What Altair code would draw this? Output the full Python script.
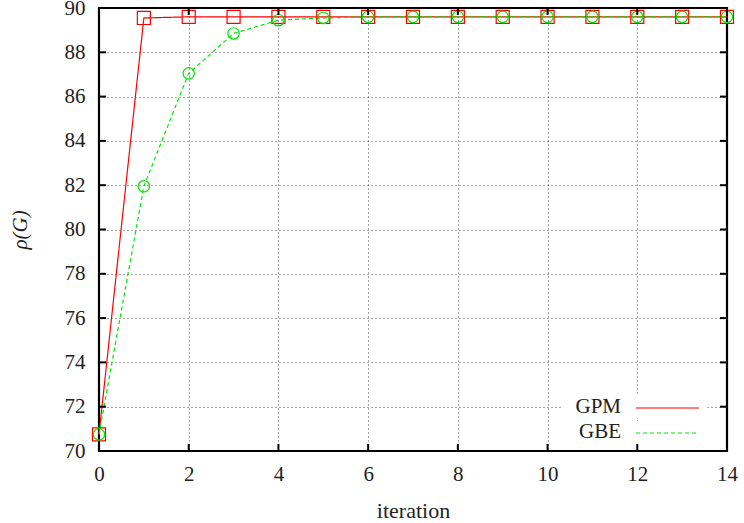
import altair as alt
import pandas as pd

iterations = list(range(15))
gpm = [70.75, 89.55, 89.6, 89.6, 89.6, 89.6, 89.6, 89.6, 89.6, 89.6, 89.6, 89.6, 89.6, 89.6, 89.6]
gbe = [70.75, 81.95, 87.05, 88.85, 89.45, 89.55, 89.6, 89.6, 89.6, 89.6, 89.6, 89.6, 89.6, 89.6, 89.6]
series = ["GPM", "GBE"]
colors = ["#ff0000", "#00e600"]
dashes = [[1, 0], [4, 3]]
shapes = ["square", "circle"]
xticks = list(range(0, 15, 2))
yticks = list(range(70, 91, 2))

rows = []
for name, vals in zip(series, [gpm, gbe]):
    for it, v in zip(iterations, vals):
        rows.append({"iteration": it, "rho": v, "series": name})
df = pd.DataFrame(rows)

W, H = 628, 443
FONT = "Liberation Serif"
FS = 21

xs = alt.Scale(domain=[0, 14], nice=False, zero=False)
ys = alt.Scale(domain=[70, 90], nice=False, zero=False)
color = alt.Color("series:N", scale=alt.Scale(domain=series, range=colors), legend=None)

xaxis = alt.Axis(values=xticks, title="iteration", grid=True, gridDash=[1, 3], gridColor="#000",
                 gridOpacity=0.7, ticks=False, domain=False, labelFont=FONT, labelFontSize=FS,
                 labelColor="#222", labelPadding=12, labelFlush=False, labelOverlap=False,
                 titleFont=FONT, titleFontSize=FS + 1,
                 titleFontWeight="normal", titleColor="#222", titleY=59, titleBaseline="middle")
yaxis = alt.Axis(values=yticks, title="ρ(G)", grid=True, gridDash=[1, 3], gridColor="#000",
                 gridOpacity=0.7, ticks=False, domain=False, labelFont=FONT, labelFontSize=FS,
                 labelColor="#222", labelPadding=14, labelFlush=False, labelOverlap=False,
                 titleFont=FONT, titleFontSize=FS,
                 titleFontWeight="normal", titleFontStyle="italic", titleColor="#222",
                 titleAngle=270, titleX=-79, titleY=H / 2, titleAlign="center",
                 titleBaseline="middle")

base = alt.Chart(df)
lines = base.mark_line(strokeWidth=1.2).encode(
    x=alt.X("iteration:Q", scale=xs, axis=xaxis),
    y=alt.Y("rho:Q", scale=ys, axis=yaxis),
    color=color,
    strokeDash=alt.StrokeDash("series:N", scale=alt.Scale(domain=series, range=dashes), legend=None),
    detail="series:N",
)
points = base.mark_point(filled=False, strokeWidth=1.2, opacity=1).encode(
    x=alt.X("iteration:Q", scale=xs),
    y=alt.Y("rho:Q", scale=ys),
    color=color,
    shape=alt.Shape("series:N", scale=alt.Scale(domain=series, range=shapes), legend=None),
    size=alt.Size("series:N", scale=alt.Scale(domain=series, range=[170, 130]), legend=None),
)

xt = pd.DataFrame({"v": xticks})
yt = pd.DataFrame({"v": yticks})
tick_style = dict(color="#000", strokeWidth=2)
xt_bottom = alt.Chart(xt).mark_rule(**tick_style).encode(x=alt.X("v:Q", scale=xs), y=alt.value(H), y2=alt.value(H - 7))
xt_top = alt.Chart(xt).mark_rule(**tick_style).encode(x=alt.X("v:Q", scale=xs), y=alt.value(0), y2=alt.value(7))
yt_left = alt.Chart(yt).mark_rule(**tick_style).encode(y=alt.Y("v:Q", scale=ys), x=alt.value(0), x2=alt.value(7))
yt_right = alt.Chart(yt).mark_rule(**tick_style).encode(y=alt.Y("v:Q", scale=ys), x=alt.value(W), x2=alt.value(W - 7))

legend_layers = []
for i, (name, col, dash) in enumerate(zip(series, colors, dashes)):
    ly = 399 + i * 25
    ld = pd.DataFrame({"label": [name]})
    legend_layers.append(alt.Chart(ld).mark_rect(color="white").encode(
        x=alt.value(462), x2=alt.value(608), y=alt.value(ly - 11), y2=alt.value(ly + 12)))
for i, (name, col, dash) in enumerate(zip(series, colors, dashes)):
    ly = 399 + i * 25
    ld = pd.DataFrame({"label": [name]})
    legend_layers.append(alt.Chart(ld).mark_text(font=FONT, fontSize=FS, color="#222", align="right",
                                                 baseline="middle").encode(
        text="label:N", x=alt.value(522), y=alt.value(ly)))
    legend_layers.append(alt.Chart(ld).mark_rule(color=col, strokeWidth=1.2, strokeDash=dash).encode(
        x=alt.value(537), x2=alt.value(600), y=alt.value(ly + 1)))

chart = alt.layer(
    lines, *legend_layers, points, xt_bottom, xt_top, yt_left, yt_right
).properties(
    width=W, height=H,
    autosize=alt.AutoSizeParams(type="none"),
    padding={"left": 99, "top": 8, "right": 17, "bottom": 72},
    background="white",
).configure_view(stroke="#000", strokeWidth=2.2)

chart.save("out.html", embed_options={"renderer": "svg", "actions": False})
